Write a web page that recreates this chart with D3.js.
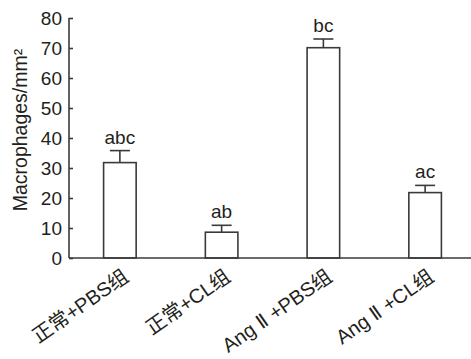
<!DOCTYPE html>
<html>
<head>
<meta charset="utf-8">
<script src="https://cdn.jsdelivr.net/npm/d3@7"></script>
<style>
body { margin: 0; background: #fff; }
text { font-family: "Liberation Sans", Arial, "Noto Sans CJK SC", sans-serif; fill: #231f20; }
.roman { font-family: "DejaVu Sans", "Liberation Sans", sans-serif; }
</style>
</head>
<body>
<div id="vis"></div>
<script>
const FRAME_WIDTH = 471;
const FRAME_HEIGHT = 359;
const MARGINS = {left: 69, right: 0, top: 18, bottom: 101};

const groups = ["正常+PBS组", "正常+CL组", "Ang Ⅱ +PBS组", "Ang Ⅱ +CL组"];
const means = [31.8, 8.6, 70.1, 21.8];
const errors = [4.0, 2.3, 2.9, 2.4];
const letters = ["abc", "ab", "bc", "ac"];
const yTicks = [0, 10, 20, 30, 40, 50, 60, 70, 80];

const VIS_HEIGHT = FRAME_HEIGHT - MARGINS.top - MARGINS.bottom;

const svg = d3.select("#vis")
    .append("svg")
    .attr("width", FRAME_WIDTH)
    .attr("height", FRAME_HEIGHT);

const X_SCALE = d3.scaleBand()
    .domain(groups)
    .range([MARGINS.left, 476])
    .paddingInner(0.68)
    .paddingOuter(0.34);

const Y_SCALE = d3.scaleLinear()
    .domain([0, 80])
    .range([MARGINS.top + VIS_HEIGHT, MARGINS.top]);

const ink = "#3a3a3a";

// bars
svg.selectAll(".bar")
    .data(groups)
    .enter()
    .append("rect")
    .attr("x", d => X_SCALE(d))
    .attr("y", (d, i) => Y_SCALE(means[i]))
    .attr("width", X_SCALE.bandwidth())
    .attr("height", (d, i) => Y_SCALE(0) - Y_SCALE(means[i]))
    .attr("fill", "#fff")
    .attr("stroke", ink)
    .attr("stroke-width", 1.6);

// error bars (upper only)
const cx = d => X_SCALE(d) + X_SCALE.bandwidth() / 2;
svg.selectAll(".err")
    .data(groups)
    .enter()
    .append("line")
    .attr("x1", cx).attr("x2", cx)
    .attr("y1", (d, i) => Y_SCALE(means[i]))
    .attr("y2", (d, i) => Y_SCALE(means[i] + errors[i]))
    .attr("stroke", ink)
    .attr("stroke-width", 1.6);

svg.selectAll(".cap")
    .data(groups)
    .enter()
    .append("line")
    .attr("x1", d => cx(d) - 10).attr("x2", d => cx(d) + 10)
    .attr("y1", (d, i) => Y_SCALE(means[i] + errors[i]))
    .attr("y2", (d, i) => Y_SCALE(means[i] + errors[i]))
    .attr("stroke", ink)
    .attr("stroke-width", 1.6);

// significance letters
svg.selectAll(".letter")
    .data(groups)
    .enter()
    .append("text")
    .attr("x", cx)
    .attr("y", (d, i) => Y_SCALE(means[i] + errors[i]) - 7)
    .attr("text-anchor", "middle")
    .attr("font-size", "19px")
    .text((d, i) => letters[i]);

// y axis
const yAxis = svg.append("g")
    .attr("transform", "translate(" + MARGINS.left + ",0)")
    .call(d3.axisLeft(Y_SCALE).tickValues(yTicks).tickSize(-4).tickPadding(7));
yAxis.select(".domain").attr("d", "M0," + Y_SCALE(80) + "V" + Y_SCALE(0));
yAxis.selectAll("path, line").attr("stroke", ink).attr("stroke-width", 1.6);
yAxis.selectAll("text").attr("font-size", "19px").attr("font-family", null).attr("fill", "#231f20");

// x axis line
svg.append("line")
    .attr("x1", MARGINS.left).attr("x2", FRAME_WIDTH)
    .attr("y1", Y_SCALE(0)).attr("y2", Y_SCALE(0))
    .attr("stroke", ink)
    .attr("stroke-width", 1.6);

// x labels (roman numeral in its own tspan so it stays narrow)
const xlab = svg.selectAll(".xlab")
    .data(groups)
    .enter()
    .append("text")
    .attr("transform", d => "translate(" + (cx(d) + 6) + "," + (Y_SCALE(0) + 16) + ") rotate(-35)")
    .attr("text-anchor", "end")
    .attr("dy", "0.35em")
    .attr("font-size", "20px");
xlab.each(function(d) {
    const parts = d.split("Ⅱ");
    const t = d3.select(this);
    t.append("tspan").text(parts[0]);
    if (parts.length > 1) {
        t.append("tspan").attr("class", "roman").text("Ⅱ");
        t.append("tspan").text(parts[1]);
    }
});

// y title
svg.append("text")
    .attr("transform", "translate(27,130) rotate(-90)")
    .attr("text-anchor", "middle")
    .attr("font-size", "19.5px")
    .text("Macrophages/mm²");
</script>
</body>
</html>
